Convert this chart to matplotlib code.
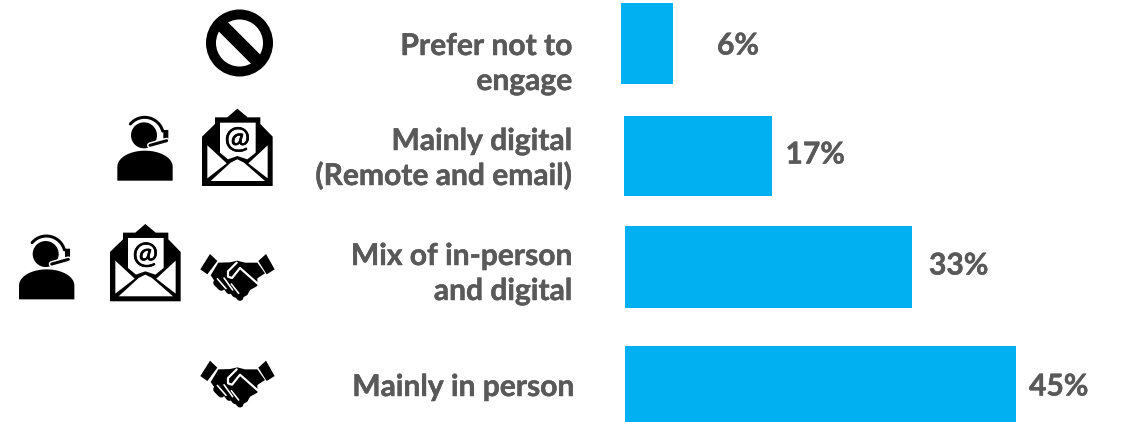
import numpy as np
import matplotlib
matplotlib.use("Agg")
import matplotlib.pyplot as plt
import matplotlib.patheffects as pe
from matplotlib.patches import Circle, Polygon

# chart data, top row first
categories = ["Prefer not to\nengage", "Mainly digital\n(Remote and email)",
              "Mix of in-person\nand digital", "Mainly in person"]
shares = [6, 17, 33, 45]
value_labels = ["6%", "17%", "33%", "45%"]

# layout in pixels
W, H = 1122, 422
bar_left = [621, 624, 625, 625]
bar_top = [3, 116, 226, 346]
bar_bottom = [84, 196, 308, 422]
value_x = [717, 785.5, 929, 1029]
value_base = [54.5, 163.5, 274.5, 395.5]
label_right = [572.5, 572.5, 572.5, 574.5]
label_base = [[55, 90], [150, 185], [265, 300], [396]]

BLUE = "#00B0F0"
GREY = "#595959"
PX = 72 / 100  # one pixel in points at dpi 100

plt.rcParams["font.family"] = ["Lato", "DejaVu Sans"]

fig = plt.figure(figsize=(W / 100, H / 100), dpi=100)
fig.patch.set_facecolor("white")

# bars: 0-45 spans pixels 625-1016
ax = fig.add_axes([625 / W, 0, 391 / W, 1])
ax.set_xlim(0, 45)
ax.set_ylim(H, 0)
ax.axis("off")
unit = 391 / 45
for share, left, top, bottom in zip(shares, bar_left, bar_top, bar_bottom):
    ax.barh((top + bottom) / 2, share, height=bottom - top, left=(left - 625) / unit,
            color=BLUE, linewidth=0, clip_on=False)

# overlay in pixel coordinates for text and icons
ov = fig.add_axes([0, 0, 1, 1])
ov.set_xlim(0, W)
ov.set_ylim(H, 0)
ov.axis("off")
ov.patch.set_alpha(0)

# a hairline stroke thickens the small hinted text a little
heavier = [pe.withStroke(linewidth=0.35, foreground=GREY)]
for cat, right, bases in zip(categories, label_right, label_base):
    for line, base in zip(cat.split("\n"), bases):
        ov.text(right, base, line, ha="right", va="baseline", fontsize=21.6,
                fontweight="bold", color=GREY, path_effects=heavier)
for lab, x, base in zip(value_labels, value_x, value_base):
    ov.text(x, base, lab, ha="left", va="baseline", fontsize=21.6,
            fontweight="bold", color=GREY, path_effects=heavier)


def poly(pts, ox, oy, color="black"):
    # points are given at 3x scale around the icon origin
    xy = [(ox + a / 3, oy + b / 3) for a, b in pts]
    ov.add_patch(Polygon(xy, closed=True, fc=color, ec="none"))


def stroke(pts, ox, oy, lw, color="black"):
    xs = [ox + a / 3 for a, b in pts]
    ys = [oy + b / 3 for a, b in pts]
    ov.plot(xs, ys, color=color, lw=lw * PX, solid_capstyle="round", solid_joinstyle="round")


def ban_icon(cx, cy):
    ov.add_patch(Circle((cx, cy), 33.5, fc="black", ec="none"))
    ov.add_patch(Circle((cx, cy), 23.5, fc="white", ec="none"))
    ov.plot([cx - 19, cx + 19], [cy - 19, cy + 19], color="black", lw=13 * PX, solid_capstyle="butt")


def person_icon(ox, oy):
    # head
    ov.add_patch(Circle((ox + 102 / 3, oy + 76 / 3), 39 / 3, fc="black", ec="none"))
    # shoulders
    t = np.linspace(np.pi, 0, 30)
    top = [(105 + 83 * np.cos(a), 170 - 48 * np.sin(a)) for a in t]
    poly([(22, 212)] + top + [(188, 212)], ox, oy)
    # headband
    t = np.radians(np.linspace(-140, -15, 30))
    band = [(104 + 56 * np.cos(a), 78 + 56 * np.sin(a)) for a in t]
    stroke(band, ox, oy, 3)
    # earpiece and mic boom
    poly([(160, 60), (175, 60), (175, 90), (160, 92)], ox, oy)
    stroke([(170, 92), (120, 106)], ox, oy, 6, color="white")
    stroke([(170, 92), (120, 106)], ox, oy, 3)


def mail_icon(ox, oy):
    poly([(606, 410), (645, 372), (645, 352), (682, 352), (712, 326), (743, 352), (781, 352),
          (781, 372), (818, 410), (818, 558), (606, 558)], ox, oy)
    # letter sheet
    poly([(660, 368), (767, 368), (767, 458), (742, 478), (712, 468), (684, 478), (660, 458)], ox, oy, "white")
    # side panels and front flap
    poly([(622, 436), (680, 490), (622, 535)], ox, oy, "white")
    poly([(803, 436), (745, 490), (803, 535)], ox, oy, "white")
    poly([(632, 543), (692, 488), (712, 478), (732, 488), (795, 543)], ox, oy, "white")
    ov.text(ox + 712 / 3, oy + 417 / 3, "@", ha="center", va="center", fontsize=22,
            color="black", path_effects=[pe.withStroke(linewidth=0.5, foreground="black")])


def shake_icon(ox, oy):
    # cuffs
    poly([(630, 132), (652, 153), (622, 193), (601, 178)], ox, oy)
    poly([(798, 132), (824, 178), (800, 193), (775, 153)], ox, oy)
    # clasped hands
    poly([(655, 158), (690, 157), (712, 152), (735, 158), (772, 158), (795, 190), (772, 205),
          (772, 228), (750, 240), (742, 255), (722, 266), (700, 255), (650, 222), (632, 196)], ox, oy)
    # fingers
    for a, b in [((650, 218), (664, 232)), ((668, 214), (688, 242)), ((686, 226), (706, 252)), ((704, 242), (720, 262))]:
        stroke([a, b], ox, oy, 7)
    for a, b in [((652, 206), (678, 236)), ((672, 204), (698, 240)), ((694, 222), (716, 250))]:
        stroke([a, b], ox, oy, 1.6, color="white")
    # gap between the two hands
    stroke([(710, 158), (684, 184), (684, 200), (696, 204), (720, 174), (772, 220)], ox, oy, 2.2, color="white")


ban_icon(239.5, 43)
person_icon(110, 110)
mail_icon(0, 0)
person_icon(11.7, 228.7)
mail_icon(-92, 115.3)
shake_icon(0, 210)
shake_icon(0, 316.7)

fig.savefig("out.png", dpi=100)
